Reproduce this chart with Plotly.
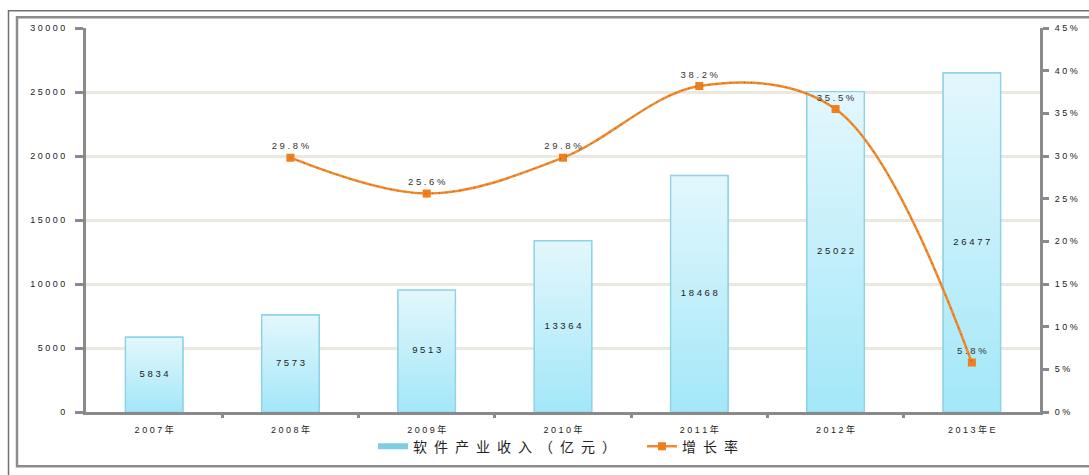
import plotly.graph_objects as go

# ---------------- data ----------------
years = ["2007年", "2008年", "2009年", "2010年", "2011年", "2012年", "2013年E"]
revenue = [5834, 7573, 9513, 13364, 18468, 25022, 26477]          # 软件产业收入（亿元）
growth_years = ["2008年", "2009年", "2010年", "2011年", "2012年", "2013年E"]
growth = [29.8, 25.6, 29.8, 38.2, 35.5, 5.8]                       # 增长率 (%)
left_ticks = [0, 5000, 10000, 15000, 20000, 25000, 30000]
right_ticks = [0, 5, 10, 15, 20, 25, 30, 35, 40, 45]
bar_name = "软件产业收入（亿元）"
line_name = "增长率"

# ---------------- helpers ----------------
def spaced(s, sep=" "):
    return sep.join(list(s))

W, H = 1089, 475
ML, MR, MT, MB = 86, 49, 28, 58
PW, PH = W - ML - MR, H - MT - MB

def px2x(px):
    return (px - ML) / PW

def py2y(py):
    return (H - MB - py) / PH

xpos = list(range(len(years)))
gx = [years.index(y) for y in growth_years]
bw = 0.42

FONT = "Liberation Sans, Arial, Noto Sans CJK SC, sans-serif"
AXIS_GREY = "#8a8a8a"

fig = go.Figure()

# base bar trace (hover + outline)
fig.add_trace(go.Bar(
    x=xpos, y=revenue, width=bw, name=bar_name,
    marker=dict(color="#c6eff9", line=dict(color="#6cc3dc", width=1.5)),
    hoverinfo="y", showlegend=False, yaxis="y",
))

# gradient-filled bars drawn from data
for i, v in zip(xpos, revenue):
    fig.add_trace(go.Scatter(
        x=[i - bw / 2, i + bw / 2, i + bw / 2, i - bw / 2, i - bw / 2],
        y=[0, 0, v, v, 0],
        mode="lines", fill="toself",
        fillgradient=dict(type="vertical",
                          colorscale=[[0, "#a3e7f8"], [1, "#e3f7fd"]]),
        line=dict(color="#8fd4e6", width=1.2),
        showlegend=False, hoverinfo="skip", yaxis="y",
    ))

# legend entry for bars (flat wide swatch like the original)
fig.add_trace(go.Scatter(
    x=[None], y=[None], mode="lines",
    name=spaced(bar_name, "\u2002") + "\u2002\u2002\u2002",
    line=dict(color="#7fcde2", width=6), showlegend=True, yaxis="y",
))

# bar value labels
fig.add_trace(go.Scatter(
    x=xpos, y=[v / 2 for v in revenue], mode="text",
    text=[spaced(str(v)) for v in revenue],
    textfont=dict(family=FONT, size=9.5, color="#222222"),
    showlegend=False, hoverinfo="skip", yaxis="y",
))

# growth line
fig.add_trace(go.Scatter(
    x=gx, y=growth, yaxis="y2", name=spaced(line_name, "\u2002"),
    mode="lines+markers+text",
    line=dict(color="#f08a2c", width=2.5, shape="spline", smoothing=1.0),
    marker=dict(symbol="square", size=8, color="#ef7e1c"),
    text=[spaced(f"{g:.1f}%") for g in growth],
    textposition="top center",
    textfont=dict(family=FONT, size=9.5, color="#333333"),
    showlegend=True,
))
# sparse dark speckle along the line
fig.add_trace(go.Scatter(
    x=gx, y=growth, yaxis="y2", mode="lines",
    line=dict(color="rgba(30,30,30,0.45)", width=1, dash="1px,6px",
              shape="spline", smoothing=1.0),
    showlegend=False, hoverinfo="skip",
))

# ---------------- frame decoration ----------------
shapes = [
    dict(type="rect", xref="paper", yref="paper",
         x0=px2x(8.5), y0=py2y(510), x1=px2x(1120), y1=py2y(10.5),
         line=dict(color="#707070", width=1.5), fillcolor="rgba(0,0,0,0)",
         layer="above"),
    dict(type="rect", xref="paper", yref="paper",
         x0=px2x(17), y0=py2y(472), x1=px2x(1120), y1=py2y(17),
         line=dict(color="#8c8c8c", width=2.5), fillcolor="rgba(0,0,0,0)",
         layer="above"),
]

fig.update_layout(
    width=W, height=H,
    margin=dict(l=ML, r=MR, t=MT, b=MB, pad=0),
    paper_bgcolor="white", plot_bgcolor="white",
    font=dict(family=FONT, size=9, color="#222222"),
    barmode="overlay",
    shapes=shapes,
    showlegend=True,
    legend=dict(orientation="h", x=px2x(558), xanchor="center",
                y=py2y(452), yanchor="middle",
                font=dict(family="Noto Sans CJK SC, sans-serif", size=14, color="#222222"),
                bgcolor="rgba(0,0,0,0)", itemwidth=30, tracegroupgap=0),
    xaxis=dict(
        range=[-0.5, len(years) - 0.5],
        tickvals=xpos, ticktext=[spaced(y) for y in years],
        ticks="outside", ticklen=7, tickcolor="rgba(0,0,0,0)",
        tickfont=dict(family=FONT, size=9, color="#222222"),
        minor=dict(tickvals=[i + 0.5 for i in xpos[:-1]], ticks="outside",
                   ticklen=3, tickwidth=3, tickcolor=AXIS_GREY, showgrid=False),
        showline=True, linecolor=AXIS_GREY, linewidth=3,
        showgrid=False, zeroline=False, fixedrange=True,
    ),
    yaxis=dict(
        range=[0, 30000], tickvals=left_ticks,
        ticktext=[spaced(str(v)) for v in left_ticks],
        ticks="outside", ticklen=8, tickwidth=2.5, tickcolor=AXIS_GREY,
        ticklabelstandoff=8,
        tickfont=dict(family=FONT, size=9, color="#222222"),
        showline=True, linecolor=AXIS_GREY, linewidth=3,
        showgrid=True, gridcolor="#ebe9df", gridwidth=3,
        zeroline=False,
    ),
    yaxis2=dict(
        range=[0, 45], tickvals=right_ticks,
        ticktext=[spaced(f"{v}%") for v in right_ticks],
        overlaying="y", side="right",
        ticks="outside", ticklen=6, tickwidth=2.5, tickcolor=AXIS_GREY,
        ticklabelstandoff=4,
        tickfont=dict(family=FONT, size=9, color="#222222"),
        showline=True, linecolor=AXIS_GREY, linewidth=3,
        showgrid=False, zeroline=False,
    ),
)

fig.write_html("out.html")
